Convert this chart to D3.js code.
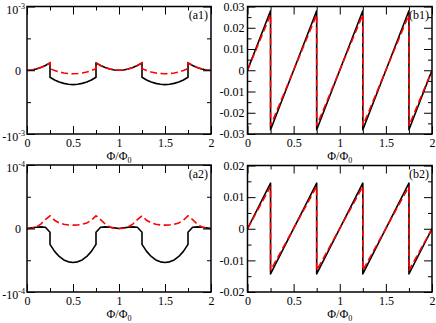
<!DOCTYPE html>
<html>
<head>
<meta charset="utf-8">
<script src="https://cdn.jsdelivr.net/npm/d3@7"></script>
<style>
  html, body { margin: 0; padding: 0; background: #fff; }
  svg { display: block; }
  svg text { font-family: "Liberation Serif", "Times New Roman", Times, "DejaVu Serif", serif; }
</style>
</head>
<body>
<svg id="chart" width="436" height="323"></svg>
<script>
// ---------------- DATA ----------------
const xTicks = [0, 0.5, 1, 1.5, 2];
const xTickLabels = ["0", "0.5", "1", "1.5", "2"];
const xMinorTicks = [0.25, 0.75, 1.25, 1.75];

// (a) panels: values in units of the panel's power of ten
const aYTicks = [-1, 0, 1];
const aYMinorTicks = [-0.5, 0.5];
const a1YLabels = [["-10", "-3"], ["0", ""], ["10", "-3"]];
const a2YLabels = [["-10", "-4"], ["0", ""], ["10", "-4"]];

const b1YTicks = [-0.03, -0.02, -0.01, 0, 0.01, 0.02, 0.03];
const b1YLabels = ["-0.03", "-0.02", "-0.01", "0", "0.01", "0.02", "0.03"];
const b1YMinorTicks = [-0.025, -0.015, -0.005, 0.005, 0.015, 0.025];
const b2YTicks = [-0.02, -0.01, 0, 0.01, 0.02];
const b2YLabels = ["-0.02", "-0.01", "0", "0.01", "0.02"];
const b2YMinorTicks = [-0.015, -0.005, 0.005, 0.015];

// Phi/Phi0 sample positions for (a) panels (duplicated x = jump)
const phiA = [0,0.05,0.1,0.15,0.2,0.25,0.25,0.3,0.35,0.4,0.45,0.5,0.55,0.6,0.65,0.7,0.75,0.75,0.8,0.85,0.9,0.95,1,
              1.05,1.1,1.15,1.2,1.25,1.25,1.3,1.35,1.4,1.45,1.5,1.55,1.6,1.65,1.7,1.75,1.75,1.8,1.85,1.9,1.95,2];

// (a1) in units of 1e-3
const a1Black = [0,0.005,0.019,0.042,0.074,0.116,-0.11,-0.152,-0.184,-0.206,-0.22,-0.225,-0.22,-0.206,-0.184,-0.152,-0.11,0.116,0.074,0.042,0.019,0.005,0,
                 0.005,0.019,0.042,0.074,0.116,-0.11,-0.152,-0.184,-0.206,-0.22,-0.225,-0.22,-0.206,-0.184,-0.152,-0.11,0.116,0.074,0.042,0.019,0.005,0];
const a1Red   = [0,0.005,0.019,0.042,0.074,0.116,0.025,-0.005,-0.027,-0.043,-0.052,-0.055,-0.052,-0.043,-0.027,-0.005,0.025,0.116,0.074,0.042,0.019,0.005,0,
                 0.005,0.019,0.042,0.074,0.116,0.025,-0.005,-0.027,-0.043,-0.052,-0.055,-0.052,-0.043,-0.027,-0.005,0.025,0.116,0.074,0.042,0.019,0.005,0];

// (a2) in units of 1e-4
const a2Black = [0,0.01,0.02,0.025,0.02,-0.06,-0.25,-0.36,-0.44,-0.495,-0.525,-0.535,-0.525,-0.495,-0.44,-0.36,-0.25,-0.06,0.02,0.025,0.02,0.01,0,
                 0.01,0.02,0.025,0.02,-0.06,-0.25,-0.36,-0.44,-0.495,-0.525,-0.535,-0.525,-0.495,-0.44,-0.36,-0.25,-0.06,0.02,0.025,0.02,0.01,0];
const a2Red   = [0,0.005,0.025,0.07,0.14,0.2,0.2,0.13,0.088,0.066,0.056,0.053,0.056,0.066,0.088,0.13,0.2,0.2,0.14,0.07,0.025,0.005,0,
                 0.005,0.025,0.07,0.14,0.2,0.2,0.13,0.088,0.066,0.056,0.053,0.056,0.066,0.088,0.13,0.2,0.2,0.14,0.07,0.025,0.005,0];

// (b) panels: sawtooth corner points
const phiB = [0,0.25,0.25,0.75,0.75,1.25,1.25,1.75,1.75,2];
const b1Black = [0,0.028,-0.028,0.028,-0.028,0.028,-0.028,0.028,-0.028,0];
const b1Red   = [0,0.0262,-0.0262,0.0262,-0.0262,0.0262,-0.0262,0.0262,-0.0262,0];
const b2Black = [0,0.0144,-0.0143,0.0144,-0.0143,0.0144,-0.0143,0.0144,-0.0143,0];
const b2Red   = [0,0.0134,-0.0132,0.0134,-0.0132,0.0134,-0.0132,0.0134,-0.0132,0];

const panelTags = ["(a1)", "(b1)", "(a2)", "(b2)"];

// ---------------- LAYOUT ----------------
const svg = d3.select("#chart");
const FS = 12;
const FONT = '"Liberation Serif", "Times New Roman", Times, "DejaVu Serif", serif';

const panels = [
  { tag: panelTags[0], box: [27, 211, 6.5, 134], yDom: [-1, 1], yTicks: aYTicks, yMinor: aYMinorTicks, yLab: a1YLabels, sup: true,
    phi: phiA, black: a1Black, red: a1Red },
  { tag: panelTags[1], box: [247.5, 432, 6.5, 134], yDom: [-0.03, 0.03], yTicks: b1YTicks, yMinor: b1YMinorTicks, yLab: b1YLabels, sup: false,
    phi: phiB, black: b1Black, red: b1Red },
  { tag: panelTags[2], box: [27, 211, 165, 292], yDom: [-1, 1], yTicks: aYTicks, yMinor: aYMinorTicks, yLab: a2YLabels, sup: true,
    phi: phiA, black: a2Black, red: a2Red },
  { tag: panelTags[3], box: [247.5, 432, 165.5, 292], yDom: [-0.02, 0.02], yTicks: b2YTicks, yMinor: b2YMinorTicks, yLab: b2YLabels, sup: false,
    phi: phiB, black: b2Black, red: b2Red }
];

panels.forEach(p => {
  const [x0, x1, y0, y1] = p.box;
  const x = d3.scaleLinear().domain([0, 2]).range([x0, x1]);
  const y = d3.scaleLinear().domain(p.yDom).range([y1, y0]);
  const g = svg.append("g").attr("font-family", FONT);

  const cid = "clip" + p.tag.replace(/[()]/g, "");
  svg.append("clipPath").attr("id", cid).append("rect")
    .attr("x", x0).attr("y", y0).attr("width", x1 - x0).attr("height", y1 - y0);

  const pts = (ys) => p.phi.map((v, i) => [v, ys[i]]);
  const line = d3.line().x(d => x(d[0])).y(d => y(d[1])).curve(d3.curveLinear);
  const cg = g.append("g").attr("clip-path", `url(#${cid})`);
  cg.append("path").attr("d", line(pts(p.black)))
    .attr("fill", "none").attr("stroke", "#000").attr("stroke-width", 1.6).attr("stroke-linejoin", "round");
  cg.append("path").attr("d", line(pts(p.red)))
    .attr("fill", "none").attr("stroke", "#ff0000").attr("stroke-width", 1.6).attr("stroke-dasharray", "7,3.5");

  function styleAxis(sel) {
    sel.attr("font-family", FONT).attr("font-size", FS);
    sel.select(".domain").remove();
    sel.selectAll(".tick line").attr("stroke", "#000").attr("stroke-width", 1);
    sel.selectAll("text").attr("font-size", FS).attr("fill", "#000");
  }

  const xb = g.append("g").attr("transform", `translate(0,${y1})`)
    .call(d3.axisBottom(x).tickValues(xTicks).tickSize(-8).tickSizeOuter(0).tickPadding(4)
      .tickFormat((d, i) => xTickLabels[i]));
  styleAxis(xb);
  g.append("g").attr("transform", `translate(0,${y1})`)
    .call(d3.axisBottom(x).tickValues(xMinorTicks).tickSize(-4).tickSizeOuter(0).tickFormat(""))
    .call(styleAxis);
  g.append("g").attr("transform", `translate(0,${y0})`)
    .call(d3.axisTop(x).tickValues(xTicks).tickSize(-8).tickSizeOuter(0).tickFormat(""))
    .call(styleAxis);
  g.append("g").attr("transform", `translate(0,${y0})`)
    .call(d3.axisTop(x).tickValues(xMinorTicks).tickSize(-4).tickSizeOuter(0).tickFormat(""))
    .call(styleAxis);

  const yl = g.append("g").attr("transform", `translate(${x0},0)`)
    .call(d3.axisLeft(y).tickValues(p.yTicks).tickSize(-8).tickSizeOuter(0).tickPadding(3)
      .tickFormat((d, i) => p.sup ? "" : p.yLab[i]));
  styleAxis(yl);
  if (p.sup) {
    yl.selectAll(".tick text").each(function (d, i) {
      const t = d3.select(this);
      const lab = p.yLab[i];
      t.text(null);
      if (lab[1] === "") {
        t.attr("x", -6).attr("dy", "0.32em");
        t.append("tspan").text(lab[0]);
      } else {
        t.attr("x", -2).attr("dy", "0.55em");
        t.append("tspan").text(lab[0]);
        t.append("tspan").attr("font-size", 8).attr("dy", -5).text(lab[1]);
      }
    });
  }
  g.append("g").attr("transform", `translate(${x0},0)`)
    .call(d3.axisLeft(y).tickValues(p.yMinor).tickSize(-4).tickSizeOuter(0).tickFormat(""))
    .call(styleAxis);
  g.append("g").attr("transform", `translate(${x1},0)`)
    .call(d3.axisRight(y).tickValues(p.yTicks).tickSize(-8).tickSizeOuter(0).tickFormat(""))
    .call(styleAxis);
  g.append("g").attr("transform", `translate(${x1},0)`)
    .call(d3.axisRight(y).tickValues(p.yMinor).tickSize(-4).tickSizeOuter(0).tickFormat(""))
    .call(styleAxis);

  g.append("rect").attr("x", x0).attr("y", y0).attr("width", x1 - x0).attr("height", y1 - y0)
    .attr("fill", "none").attr("stroke", "#000").attr("stroke-width", 1.5);

  const xt = g.append("text").attr("x", (x0 + x1) / 2).attr("y", y1 + 25.5)
    .attr("text-anchor", "middle").attr("font-size", FS);
  xt.append("tspan").text("Φ/Φ");
  xt.append("tspan").attr("font-size", 8).attr("dy", 3).text("0");

  g.append("text").attr("x", x1 - 3).attr("y", y0 + 12.5).attr("text-anchor", "end")
    .attr("font-size", FS).text(p.tag);
});
</script>
</body>
</html>
